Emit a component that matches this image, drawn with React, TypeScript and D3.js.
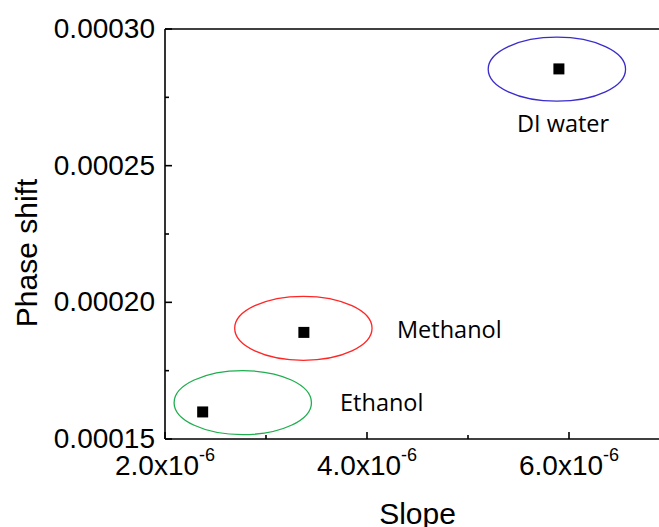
import React from 'react';
import * as d3 from 'd3';

// measured samples
const samples = ['DI water', 'Methanol', 'Ethanol'];
const slopes = [5.9e-6, 3.375e-6, 2.373e-6];
const phaseShifts = [0.0002854, 0.000189, 0.0001599];

// circled groups + their labels (data units)
const ringX = [5.88e-6, 3.37e-6, 2.77e-6];
const ringY = [0.0002853, 0.0001905, 0.0001633];
const ringColors = ['#3a2ccc', '#ff2626', '#1fae4f'];
const labelX = [5.485e-6, 4.297e-6, 3.733e-6];
const labelY = [0.0002624, 0.0001871, 0.0001602];

const xMajor = [2e-6, 4e-6, 6e-6];
const xMinor = [3e-6, 5e-6];
const xTickText = ['2.0', '4.0', '6.0'];
const yMajor = [0.00015, 0.0002, 0.00025, 0.0003];
const yMinor = [0.000175, 0.000225, 0.000275];
const yTickText = ['0.00015', '0.00020', '0.00025', '0.00030'];

const width = 659;
const height = 527;
const left = 165;
const top = 29;
const bottom = 439;

export default function App() {
  const x = d3.scaleLinear().domain([2e-6, 7e-6]).range([left, 670]);
  const y = d3.scaleLinear().domain([0.00015, 0.0003]).range([bottom, top]);
  const rx = x(2e-6 + 0.68e-6) - x(2e-6);
  const ry = y(0.00015) - y(0.00015 + 0.0000117);
  const tickFont = "'Liberation Sans', Arial, sans-serif";
  const noteFont = "'Open Sans', 'Noto Sans', sans-serif";

  return (
    <svg
      width={width}
      height={height}
      style={{ position: 'absolute', left: 0, top: 0, background: '#fff' }}
    >
      <rect width={width} height={height} fill="#fff" />

      {/* ellipses */}
      {samples.map((s, i) => (
        <ellipse
          key={'e' + s}
          cx={x(ringX[i])}
          cy={y(ringY[i])}
          rx={rx}
          ry={ry}
          fill="none"
          stroke={ringColors[i]}
          strokeWidth={1.3}
        />
      ))}

      {/* points */}
      {samples.map((s, i) => (
        <rect
          key={'p' + s}
          x={x(slopes[i]) - 5.5}
          y={y(phaseShifts[i]) - 5.5}
          width={11}
          height={11}
          fill="#000"
        />
      ))}

      {samples.map((s, i) => (
        <text
          key={'l' + s}
          x={x(labelX[i])}
          y={y(labelY[i])}
          fontFamily={noteFont}
          fontSize={23.5}
          fill="#000"
        >
          {s}
        </text>
      ))}

      {/* axes */}
      <g stroke="#000" strokeWidth={1.6} fill="none">
        <line x1={left} y1={top} x2={left} y2={bottom} />
        <line x1={left} y1={bottom} x2={width} y2={bottom} />
        <line x1={left} y1={top} x2={width} y2={top} />
        {xMajor.map((v) => (
          <line key={'xm' + v} x1={x(v)} x2={x(v)} y1={bottom} y2={bottom - 7} />
        ))}
        {xMinor.map((v) => (
          <line key={'xn' + v} x1={x(v)} x2={x(v)} y1={bottom} y2={bottom - 4} />
        ))}
        {yMajor.map((v) => (
          <line key={'ym' + v} x1={left} x2={left + 7} y1={y(v)} y2={y(v)} />
        ))}
        {yMinor.map((v) => (
          <line key={'yn' + v} x1={left} x2={left + 4} y1={y(v)} y2={y(v)} />
        ))}
      </g>

      {yMajor.map((v, i) => (
        <text
          key={'yt' + v}
          x={155}
          y={y(v) + 9}
          textAnchor="end"
          fontFamily={tickFont}
          fontSize={28}
          fill="#000"
        >
          {yTickText[i]}
        </text>
      ))}

      {xMajor.map((v, i) => (
        <text
          key={'xt' + v}
          x={x(v)}
          y={475}
          textAnchor="middle"
          fontFamily={tickFont}
          fontSize={28}
          fill="#000"
        >
          {xTickText[i]}x10
          <tspan fontSize={18} dy={-14}>-6</tspan>
        </text>
      ))}

      <text
        x={(left + 670) / 2}
        y={524}
        textAnchor="middle"
        fontFamily={tickFont}
        fontSize={30}
        fill="#000"
      >
        Slope
      </text>
      <text
        transform="translate(37,253) rotate(-90)"
        textAnchor="middle"
        fontFamily={tickFont}
        fontSize={30}
        fill="#000"
      >
        Phase shift
      </text>
    </svg>
  );
}
